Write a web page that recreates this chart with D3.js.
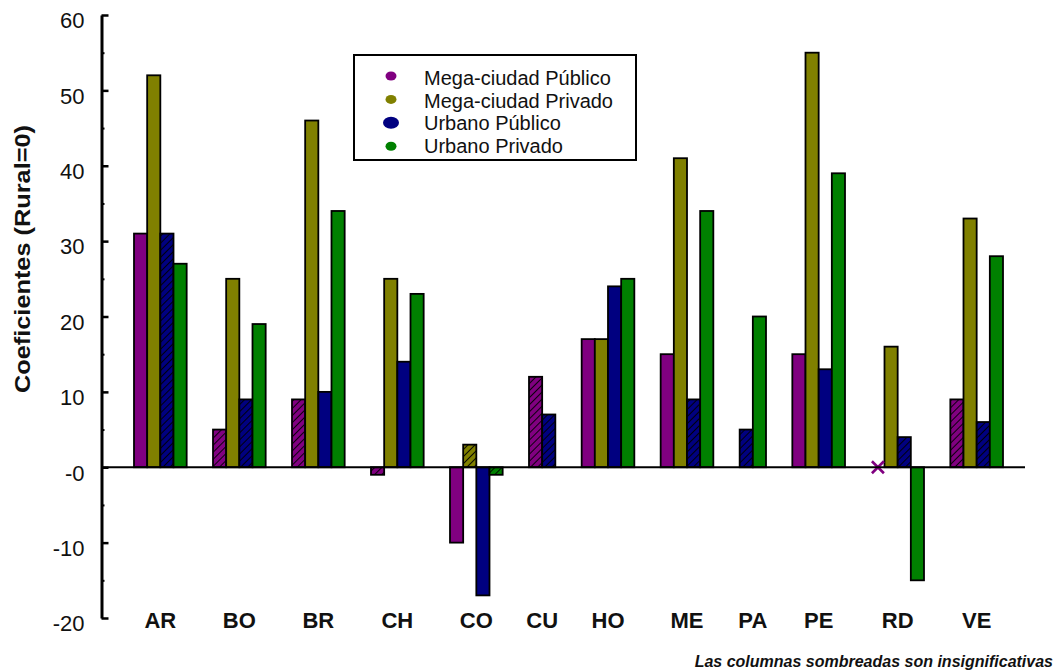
<!DOCTYPE html>
<html>
<head>
<meta charset="utf-8">
<script src="https://cdn.jsdelivr.net/npm/d3@7"></script>
<style>
    body { margin: 0; background: #fff; }
    text { font-family: "Liberation Sans", Arial, sans-serif; fill: #111; }
    .tick line { stroke: #000; }
</style>
</head>
<body>
<div id="chart"></div>
<script>

// Countries on the x axis
var categories = ["AR", "BO", "BR", "CH", "CO", "CU", "HO", "ME", "PA", "PE", "RD", "VE"];

// Coefficients per series (null = no column)
var megaPublico  = [31, 5, 9, -1, -10, 12, 17, 15, null, 15, 0, 9];
var megaPrivado  = [52, 25, 46, 25, 3, null, 17, 41, null, 55, 16, 33];
var urbPublico   = [31, 9, 10, 14, -17, 7, 24, 9, 5, 13, 4, 6];
var urbPrivado   = [27, 19, 34, 23, -1, null, 25, 34, 20, 39, -15, 28];

// 1 = not significant (shaded column)
var megaPublicoNS = [0, 1, 1, 1, 0, 1, 0, 0, 0, 0, 0, 1];
var megaPrivadoNS = [0, 0, 0, 0, 1, 0, 0, 0, 0, 0, 0, 0];
var urbPublicoNS  = [1, 1, 0, 0, 0, 1, 0, 1, 1, 0, 1, 1];
var urbPrivadoNS  = [0, 0, 0, 0, 1, 0, 0, 0, 0, 0, 0, 0];

var seriesNames = ["Mega-ciudad Público", "Mega-ciudad Privado", "Urbano Público", "Urbano Privado"];
var yTicks = [-20, -10, 0, 10, 20, 30, 40, 50, 60];

var colors = ["#800080", "#808000", "#000080", "#008000"];

var series = [
    {values: megaPublico, ns: megaPublicoNS},
    {values: megaPrivado, ns: megaPrivadoNS},
    {values: urbPublico, ns: urbPublicoNS},
    {values: urbPrivado, ns: urbPrivadoNS}
];

var width = 1060, height = 672;

var svg = d3.select("#chart").append("svg")
    .attr("width", width)
    .attr("height", height);

// hatch patterns for the insignificant columns
var defs = svg.append("defs");
colors.forEach(function(c, j) {
    var p = defs.append("pattern")
        .attr("id", "hatch" + j)
        .attr("patternUnits", "userSpaceOnUse")
        .attr("width", 5)
        .attr("height", 5)
        .attr("patternTransform", "rotate(45)");
    p.append("rect").attr("width", 5).attr("height", 5).attr("fill", c);
    p.append("line")
        .attr("x1", 0).attr("y1", 0).attr("x2", 0).attr("y2", 5)
        .attr("stroke", "#000").attr("stroke-width", 1.8);
});

// one slot per column, two empty slots between countries
var slots = [];
var bars = [];
categories.forEach(function(c, i) {
    if (i > 0) {
        slots.push("gap" + i + "a");
        slots.push("gap" + i + "b");
    }
    series.forEach(function(s, j) {
        if (s.values[i] === null) return;
        slots.push(c + "-" + j);
        bars.push({cat: c, s: j, value: s.values[i], ns: s.ns[i], key: c + "-" + j});
    });
});

var x = d3.scaleBand()
    .domain(slots)
    .range([134, 1003])
    .padding(0);

var y = d3.scaleLinear()
    .domain([-20, 60])
    .range([618, 15]);

// columns
svg.selectAll(".bar")
    .data(bars.filter(function(d) { return d.value !== 0; }))
    .enter().append("rect")
    .attr("class", "bar")
    .attr("x", function(d) { return x(d.key); })
    .attr("width", x.bandwidth())
    .attr("y", function(d) { return y(Math.max(0, d.value)); })
    .attr("height", function(d) { return Math.abs(y(d.value) - y(0)); })
    .attr("fill", function(d) { return d.ns ? "url(#hatch" + d.s + ")" : colors[d.s]; })
    .attr("stroke", "#000")
    .attr("stroke-width", 1.8);

// zero value drawn as a cross
var zeros = svg.selectAll(".zero")
    .data(bars.filter(function(d) { return d.value === 0; }))
    .enter().append("g")
    .attr("class", "zero")
    .attr("transform", function(d) {
        return "translate(" + (x(d.key) + x.bandwidth() / 2) + "," + y(0) + ")";
    });
zeros.append("path")
    .attr("d", "M-6,-6L6,6M-6,6L6,-6")
    .attr("stroke", function(d) { return colors[d.s]; })
    .attr("stroke-width", 2.6);

// zero line
svg.append("line")
    .attr("x1", 101)
    .attr("x2", 1025)
    .attr("y1", y(0))
    .attr("y2", y(0))
    .attr("stroke", "#000")
    .attr("stroke-width", 2);

// y axis, ticks point inwards
var yAxis = svg.append("g")
    .attr("transform", "translate(101.5,0)")
    .call(d3.axisLeft(y)
        .tickValues(yTicks)
        .tickSizeInner(-7)
        .tickSizeOuter(0)
        .tickPadding(17)
        .tickFormat(function(d) { return d === 0 ? "-0" : d; }));
yAxis.select(".domain").attr("stroke-width", 3);
yAxis.selectAll(".tick line").attr("stroke-width", 2.5);
yAxis.selectAll("text")
    .attr("dy", "0.58em")
    .style("font-size", "22px");

// minor ticks
var minor = svg.append("g")
    .attr("transform", "translate(101.5,0)")
    .call(d3.axisLeft(y)
        .tickValues([-15, -5, 5, 15, 25, 35, 45, 55])
        .tickSizeInner(-3)
        .tickSizeOuter(0)
        .tickFormat(""));
minor.select(".domain").remove();
minor.selectAll(".tick line").attr("stroke-width", 2);

// country labels under each group
svg.selectAll(".cat")
    .data(categories)
    .enter().append("text")
    .attr("class", "cat")
    .attr("x", function(c) {
        var keys = bars.filter(function(b) { return b.cat === c; });
        var x0 = x(keys[0].key), x1 = x(keys[keys.length - 1].key) + x.bandwidth();
        return (x0 + x1) / 2;
    })
    .attr("y", 628)
    .attr("text-anchor", "middle")
    .style("font-size", "22px")
    .style("font-weight", "bold")
    .text(function(c) { return c; });

// y axis title
svg.append("text")
    .attr("transform", "translate(30,259) rotate(-90)")
    .attr("text-anchor", "middle")
    .attr("textLength", 268)
    .attr("lengthAdjust", "spacingAndGlyphs")
    .style("font-size", "22px")
    .style("font-weight", "bold")
    .text("Coeficientes (Rural=0)");

// legend
svg.append("rect")
    .attr("x", 354)
    .attr("y", 55)
    .attr("width", 282)
    .attr("height", 105)
    .attr("fill", "#fff")
    .attr("stroke", "#000")
    .attr("stroke-width", 2);

var legend = svg.selectAll(".legend")
    .data(seriesNames)
    .enter().append("g")
    .attr("class", "legend");

legend.append("ellipse")
    .attr("cx", 391)
    .attr("cy", function(d, i) { return 76 + i * 23.4; })
    .attr("rx", function(d, i) { return i === 2 ? 8 : 5.5; })
    .attr("ry", function(d, i) { return i === 2 ? 6 : 4.5; })
    .attr("fill", function(d, i) { return colors[i]; });

legend.append("text")
    .attr("x", 424)
    .attr("y", function(d, i) { return 85 + i * 22.5; })
    .style("font-size", "20px")
    .text(function(d) { return d; });

// footnote
svg.append("text")
    .attr("x", 1053)
    .attr("y", 667)
    .attr("text-anchor", "end")
    .style("font-size", "16px")
    .style("font-weight", "bold")
    .style("font-style", "italic")
    .text("Las columnas sombreadas son insignificativas");

</script>
</body>
</html>
